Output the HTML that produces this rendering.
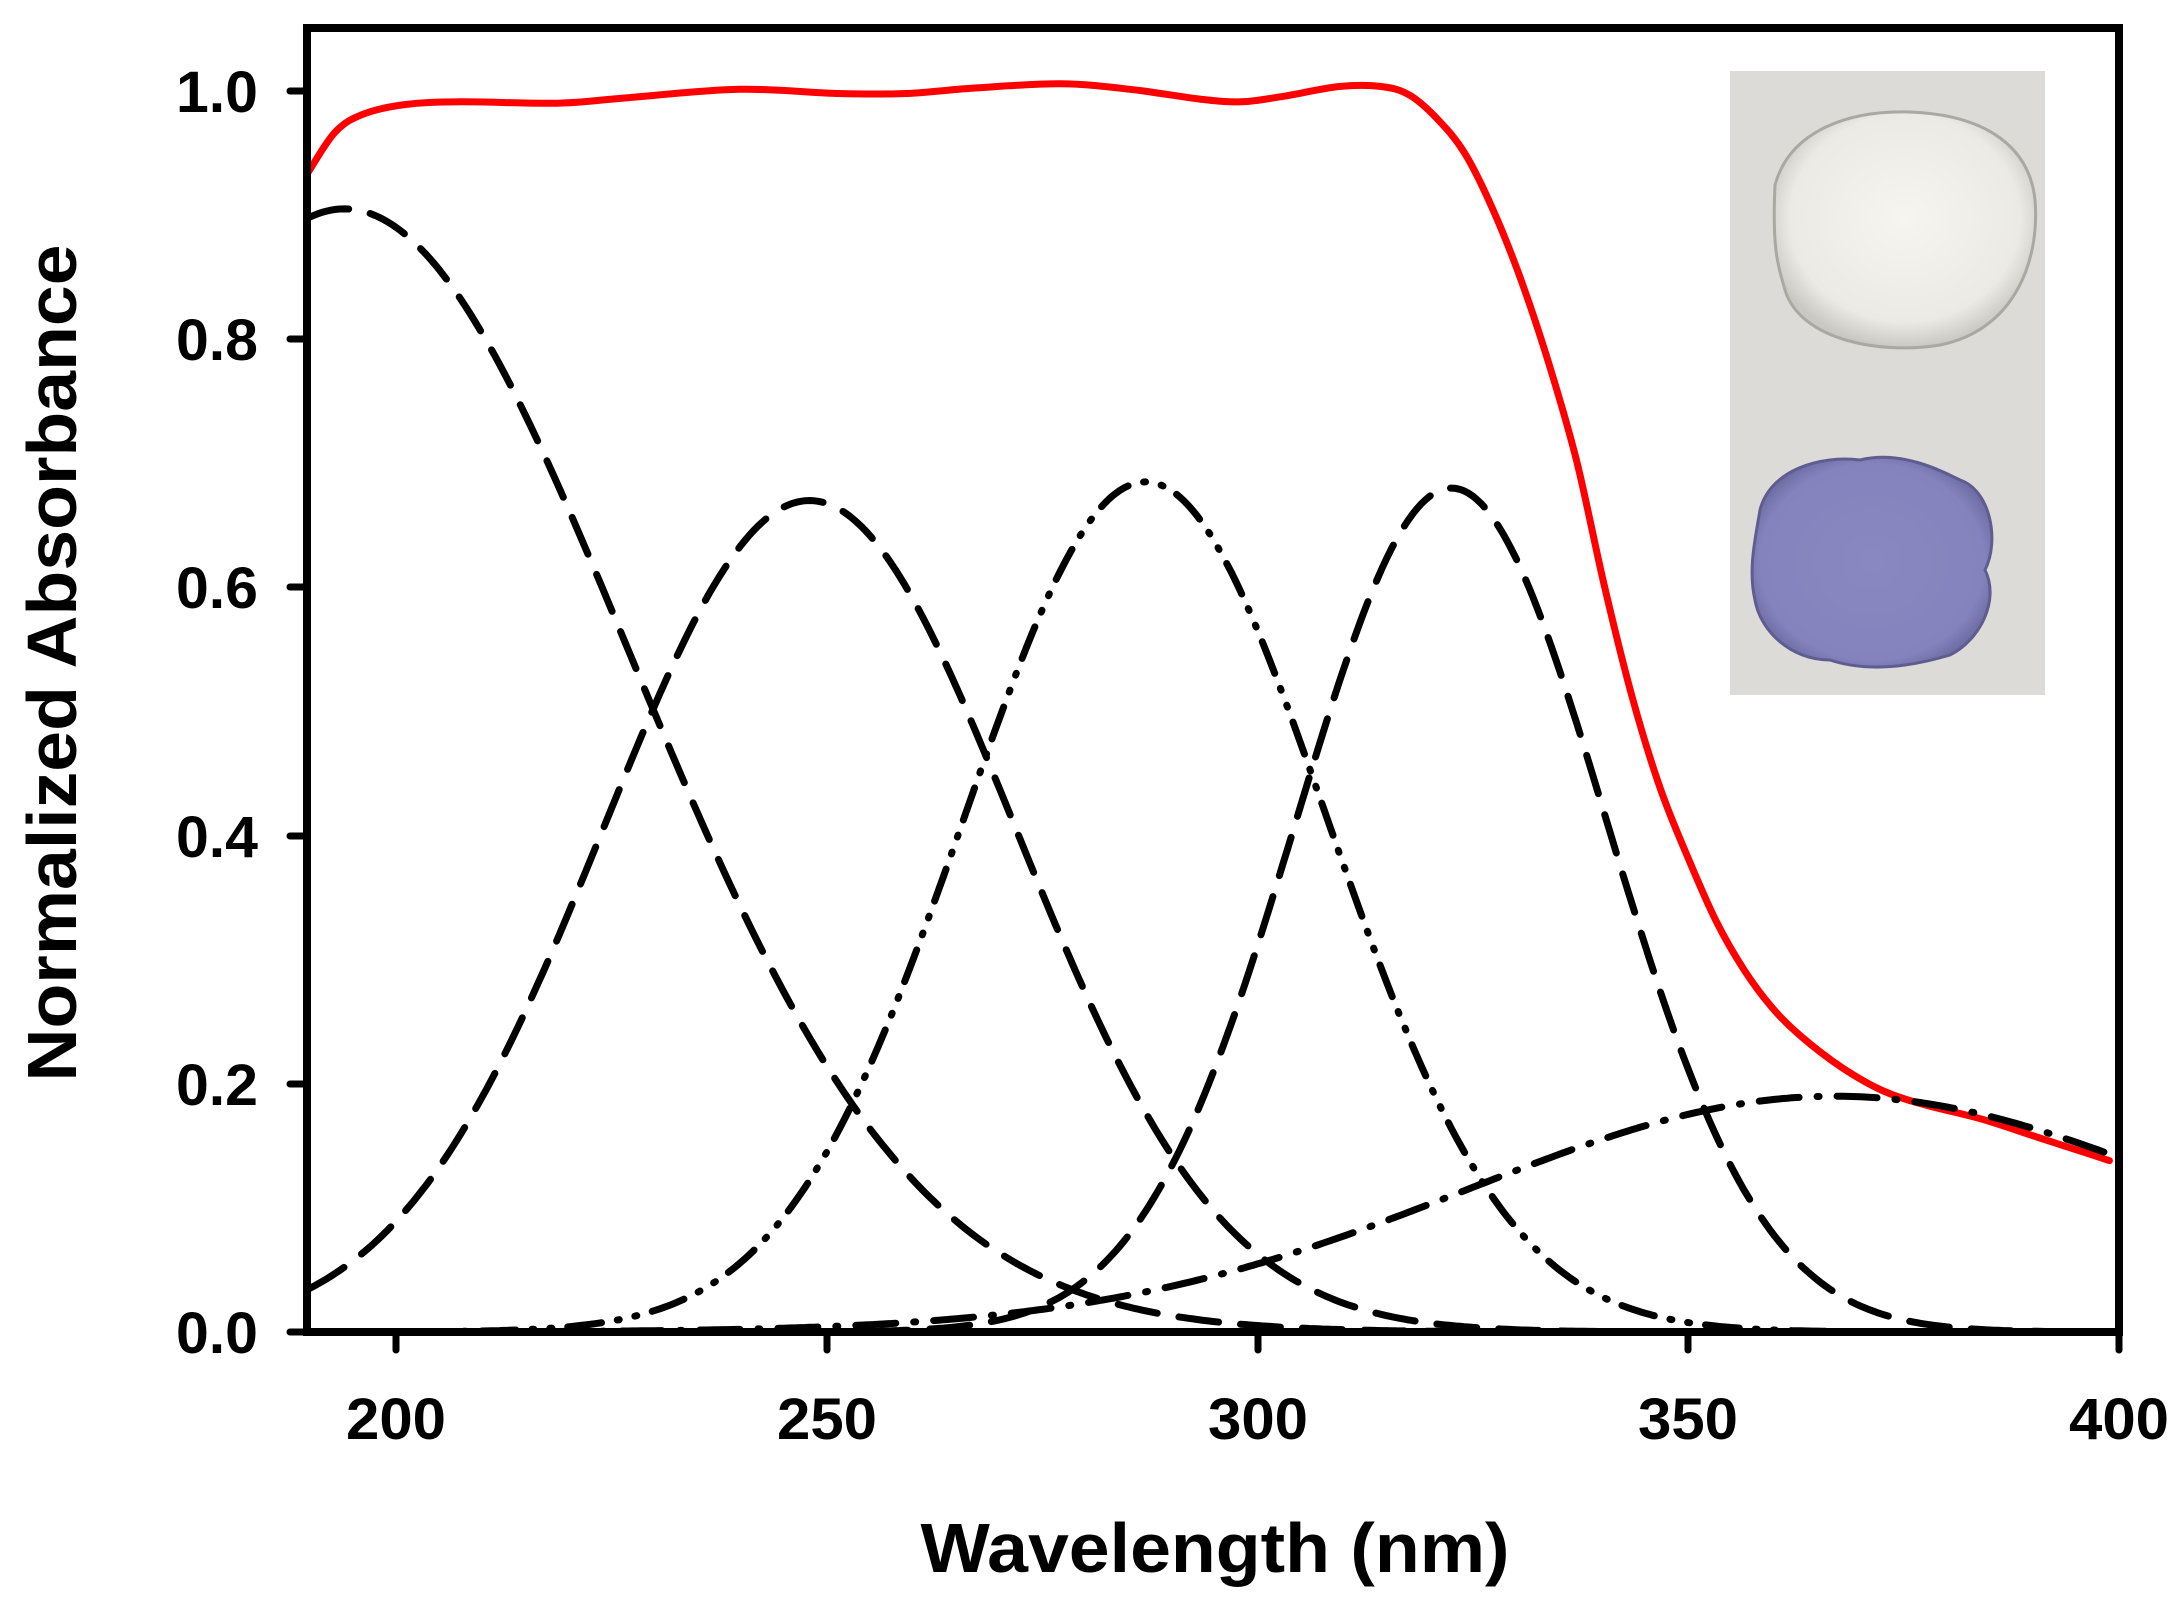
<!DOCTYPE html>
<html><head><meta charset="utf-8"><style>
html,body{margin:0;padding:0;background:#fff;}
svg{display:block;}
text{font-family:"Liberation Sans",Arial,sans-serif;font-weight:bold;fill:#000;}
</style></head><body>
<svg id="s" width="2182" height="1598" viewBox="0 0 2182 1598" xmlns="http://www.w3.org/2000/svg">
<defs>
<radialGradient id="g1" cx="50%" cy="45%" r="55%"><stop offset="0" stop-color="#f6f5f0"/><stop offset="0.8" stop-color="#ebeae4"/><stop offset="1" stop-color="#c9c8c2"/></radialGradient>
<radialGradient id="g2" cx="50%" cy="50%" r="55%"><stop offset="0" stop-color="#8a88c0"/><stop offset="0.85" stop-color="#8583bd"/><stop offset="1" stop-color="#6d6ba3"/></radialGradient>
</defs>
<rect x="1730" y="71" width="315" height="624" fill="#dcdbd7"/>
<path d="M1775,185 C1790,130 1850,110 1910,112 C1990,115 2030,150 2035,200 C2040,260 2015,330 1940,345 C1880,355 1800,340 1785,290 C1778,265 1772,250 1775,185 Z" fill="url(#g1)" stroke="#a9a8a2" stroke-width="3"/>
<path d="M1760,510 C1770,470 1820,455 1860,460 C1900,450 1940,470 1960,480 C1990,490 2000,540 1985,570 C2000,600 1980,640 1950,655 C1900,670 1860,670 1830,660 C1790,660 1760,630 1755,600 C1748,570 1755,540 1760,510 Z" fill="url(#g2)" stroke="#5f5d90" stroke-width="3"/>
<g id="plot"></g>
<rect x="307" y="28" width="1812" height="1304" fill="none" stroke="#000" stroke-width="8"/>
<g stroke="#000" stroke-width="7" stroke-linecap="round">
<line x1="290" y1="1332" x2="307" y2="1332"/><line x1="290" y1="1084" x2="307" y2="1084"/><line x1="290" y1="836" x2="307" y2="836"/><line x1="290" y1="587" x2="307" y2="587"/><line x1="290" y1="339" x2="307" y2="339"/><line x1="290" y1="91" x2="307" y2="91"/>
<line x1="396" y1="1332" x2="396" y2="1350"/><line x1="827" y1="1332" x2="827" y2="1350"/><line x1="1258" y1="1332" x2="1258" y2="1350"/><line x1="1688" y1="1332" x2="1688" y2="1350"/><line x1="2119" y1="1332" x2="2119" y2="1350"/>
</g>
<g font-size="58" text-anchor="end">
<text x="258" y="1353" textLength="82" lengthAdjust="spacingAndGlyphs">0.0</text><text x="258" y="1105" textLength="82" lengthAdjust="spacingAndGlyphs">0.2</text><text x="258" y="857" textLength="82" lengthAdjust="spacingAndGlyphs">0.4</text><text x="258" y="608" textLength="82" lengthAdjust="spacingAndGlyphs">0.6</text><text x="258" y="360" textLength="82" lengthAdjust="spacingAndGlyphs">0.8</text><text x="258" y="112" textLength="82" lengthAdjust="spacingAndGlyphs">1.0</text>
</g>
<g font-size="58" text-anchor="middle">
<text x="396" y="1439" textLength="100" lengthAdjust="spacingAndGlyphs">200</text><text x="827" y="1439" textLength="100" lengthAdjust="spacingAndGlyphs">250</text><text x="1258" y="1439" textLength="100" lengthAdjust="spacingAndGlyphs">300</text><text x="1688" y="1439" textLength="100" lengthAdjust="spacingAndGlyphs">350</text><text x="2119" y="1439" textLength="100" lengthAdjust="spacingAndGlyphs">400</text>
</g>
<text x="1215" y="1572" font-size="70" text-anchor="middle" textLength="589" lengthAdjust="spacingAndGlyphs">Wavelength (nm)</text>
<text transform="translate(76,663) rotate(-90)" font-size="70" text-anchor="middle" textLength="837" lengthAdjust="spacingAndGlyphs">Normalized Absorbance</text>
</svg>
<script>
var X=function(w){return 396+(w-200)*8.615;},Y=function(a){return 1332-a*1241;};
var g=document.getElementById('plot'),NS='http://www.w3.org/2000/svg';
function add(d,stroke,dash){var p=document.createElementNS(NS,'path');p.setAttribute('d',d);p.setAttribute('fill','none');p.setAttribute('stroke',stroke);p.setAttribute('stroke-width','7');p.setAttribute('stroke-linecap','round');if(dash)p.setAttribute('stroke-dasharray',dash);g.appendChild(p);}
function gauss(A,m,s,dash){var d='';for(var w=190;w<=399;w+=0.5){var a=A*Math.exp(-(w-m)*(w-m)/(2*s*s));d+=(w==190?'M':'L')+X(w).toFixed(1)+','+Y(a).toFixed(1);}add(d,'#000',dash);}
var pts=[[220,125],[240,95],[260,82],[290,75],[330,73],[400,74],[450,70],[530,64],[600,67],[650,67],[700,63],[760,60],[810,64],[860,71],[890,73],[920,69],[960,62],[990,62],[1010,68],[1030,85],[1050,110],[1070,150],[1090,200],[1110,260],[1130,330],[1150,420],[1170,500],[1190,565],[1210,615],[1230,660],[1250,695],[1270,722],[1290,742],[1320,765],[1350,782],[1380,792],[1420,802],[1460,815],[1500,828],[1512,832]].map(function(p){return [p[0]*1.3951,p[1]*1.3951];});
var d='M'+pts[0][0]+','+pts[0][1];
for(var i=0;i<pts.length-1;i++){var p0=pts[Math.max(0,i-1)],p1=pts[i],p2=pts[i+1],p3=pts[Math.min(pts.length-1,i+2)];
d+=' C'+(p1[0]+(p2[0]-p0[0])/6).toFixed(1)+','+(p1[1]+(p2[1]-p0[1])/6).toFixed(1)+' '+(p2[0]-(p3[0]-p1[0])/6).toFixed(1)+','+(p2[1]-(p3[1]-p1[1])/6).toFixed(1)+' '+p2[0].toFixed(1)+','+p2[1].toFixed(1);}
add(d,'#ff0000',null);
gauss(0.905,194,33,'40 22');
gauss(0.67,248,23.9,'40 22');
gauss(0.685,287,21,'34 16 2 16 2 16');
gauss(0.68,322.5,18,'40 22');
gauss(0.19,367,42.5,'40 18 2 18');
</script>
</body></html>
